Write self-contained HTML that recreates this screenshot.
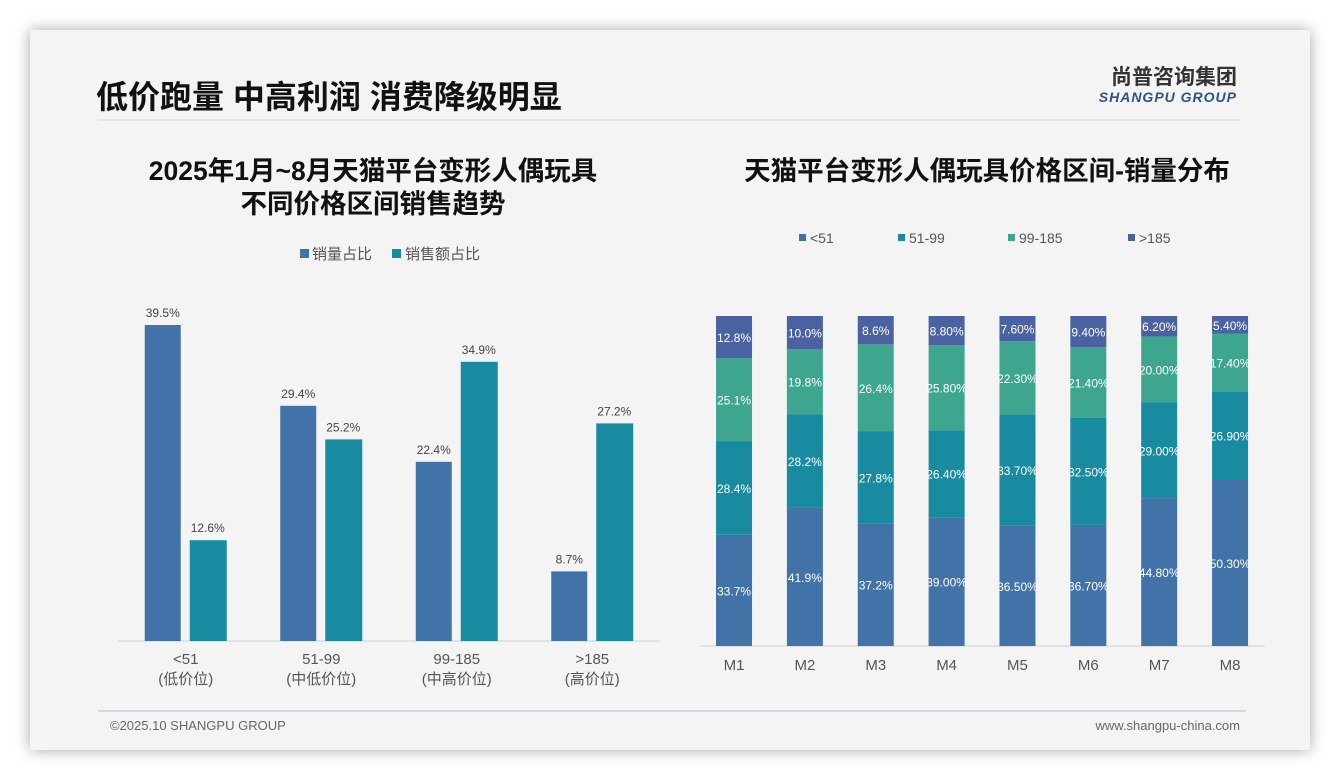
<!DOCTYPE html>
<html><head><meta charset="utf-8">
<style>
body{margin:0;width:1340px;height:780px;background:#fff;overflow:hidden;font-family:"Liberation Sans","Noto Sans CJK SC",sans-serif;}
#card{position:absolute;left:30px;top:30px;width:1280px;height:720px;background:#f4f4f4;box-shadow:0 0 14px rgba(0,0,0,0.35);}
svg{position:absolute;left:0;top:0;}
</style></head>
<body>
<div id="card"></div>
<svg id="s" width="1340" height="780">
<text x="96" y="108" font-size="32" font-weight="bold" fill="#111">低价跑量 中高利润 消费降级明显</text>
<text x="1237" y="84" font-size="21" font-weight="bold" fill="#333" text-anchor="end">尚普咨询集团</text>
<text x="1237" y="102" font-size="14" font-weight="bold" font-style="italic" fill="#2a5585" text-anchor="end" letter-spacing="1">SHANGPU GROUP</text>
<line x1="98" y1="120" x2="1240" y2="120" stroke="#d8d8d8"/>
<text x="373" y="180" font-size="26.5" font-weight="bold" fill="#111" text-anchor="middle">2025年1月~8月天猫平台变形人偶玩具</text>
<text x="373" y="213" font-size="26.5" font-weight="bold" fill="#111" text-anchor="middle">不同价格区间销售趋势</text>
<text x="987" y="180" font-size="26.5" font-weight="bold" fill="#111" text-anchor="middle">天猫平台变形人偶玩具价格区间-销量分布</text>
<line x1="98" y1="711" x2="1246" y2="711" stroke="#a9bfd6"/>
<text x="110" y="730" font-size="13" fill="#666">©2025.10 SHANGPU GROUP</text>
<text x="1240" y="730" font-size="13" fill="#666" text-anchor="end">www.shangpu-china.com</text>
<g id="left"></g>
<g id="right"></g>
</svg>
<script>
const leftCats=["<51","51-99","99-185",">185"];
const leftSub=["(低价位)","(中低价位)","(中高价位)","(高价位)"];
const volShare=[39.5,29.4,22.4,8.7];
const salesShare=[12.6,25.2,34.9,27.2];
const months=["M1","M2","M3","M4","M5","M6","M7","M8"];
const s1=[33.7,41.9,37.2,39.0,36.5,36.7,44.8,50.3];
const s2=[28.4,28.2,27.8,26.4,33.7,32.5,29.0,26.9];
const s3=[25.1,19.8,26.4,25.8,22.3,21.4,20.0,17.4];
const s4=[12.8,10.0,8.6,8.8,7.6,9.4,6.2,5.4];
const lab1=["33.7%","41.9%","37.2%","39.00%","36.50%","36.70%","44.80%","50.30%"];
const lab2=["28.4%","28.2%","27.8%","26.40%","33.70%","32.50%","29.00%","26.90%"];
const lab3=["25.1%","19.8%","26.4%","25.80%","22.30%","21.40%","20.00%","17.40%"];
const lab4=["12.8%","10.0%","8.6%","8.80%","7.60%","9.40%","6.20%","5.40%"];
const segNames=["<51","51-99","99-185",">185"];
const NS="http://www.w3.org/2000/svg";
function mk(p,t,a,txt){const e=document.createElementNS(NS,t);for(const k in a)e.setAttribute(k,a[k]);if(txt!=null)e.textContent=txt;p.appendChild(e);return e;}
const C1="#4273a8",C2="#188ba0",C3="#3ea68e",C4="#4b62a2";
const L=document.getElementById('left');
const base=641,unit=8,x0=118,gw=135.5;
const ly=v=>base-v*unit;
const gx=i=>x0+gw*(i+0.5);
let e;
e=mk(L,'line',{x1:118,y1:base,x2:660,y2:base,stroke:'#cfcfcf'});

e=mk(L,'rect',{x:300,y:249,width:9,height:9,fill:C1});

e=mk(L,'text',{x:312,y:259,'font-size':15,fill:'#555'},'销量占比');

e=mk(L,'rect',{x:392,y:249,width:9,height:9,fill:C2});

e=mk(L,'text',{x:405,y:259,'font-size':15,fill:'#555'},'销售额占比');

leftCats.forEach((c,i)=>{
  const cx=gx(i);
  e=mk(L,'rect',{x:cx-41,y:ly(volShare[i]),width:36,height:volShare[i]*unit,fill:C1});
  
  e=mk(L,'text',{x:cx-23,y:ly(volShare[i])-8,'font-size':12,fill:'#444','text-anchor':'middle'},volShare[i].toFixed(1)+'%');
  
  e=mk(L,'rect',{x:cx+4,y:ly(salesShare[i]),width:37,height:salesShare[i]*unit,fill:C2});
  
  e=mk(L,'text',{x:cx+22,y:ly(salesShare[i])-8,'font-size':12,fill:'#444','text-anchor':'middle'},salesShare[i].toFixed(1)+'%');
  
  e=mk(L,'text',{x:cx,y:664,'font-size':15,fill:'#555','text-anchor':'middle'},c);
  
  e=mk(L,'text',{x:cx,y:684,'font-size':15,fill:'#555','text-anchor':'middle'},leftSub[i]);
  
});
const R=document.getElementById('right');
const rb=646,rh=330,rx0=698.6,rw=70.86;
const mx=i=>rx0+rw*(i+0.5);
e=mk(R,'line',{x1:700,y1:rb,x2:1265,y2:rb,stroke:'#cfcfcf'});

const lx=[799,898,1008,1128];
[C1,C2,C3,C4].forEach((col,k)=>{
  e=mk(R,'rect',{x:lx[k],y:234,width:7,height:7,fill:col});
  
  e=mk(R,'text',{x:lx[k]+11,y:243,'font-size':14,fill:'#555'},segNames[k]);
  
});
const series=[s1,s2,s3,s4],labs=[lab1,lab2,lab3,lab4],cols=[C1,C2,C3,C4];
months.forEach((m,i)=>{
  const tot=s1[i]+s2[i]+s3[i]+s4[i];
  let acc=0;
  series.forEach((s,k)=>{
    const h=s[i]/tot*rh, y=rb-acc-h;
    e=mk(R,'rect',{x:mx(i)-18,y:y,width:36,height:h,fill:cols[k]});
    
    e=mk(R,'text',{x:mx(i),y:y+h/2+5,'font-size':12,fill:'#fff','text-anchor':'middle'},labs[k][i]);
    
    acc+=h;
  });
  e=mk(R,'text',{x:mx(i),y:670,'font-size':15,fill:'#555','text-anchor':'middle'},m);
  
});
</script>
</body></html>
